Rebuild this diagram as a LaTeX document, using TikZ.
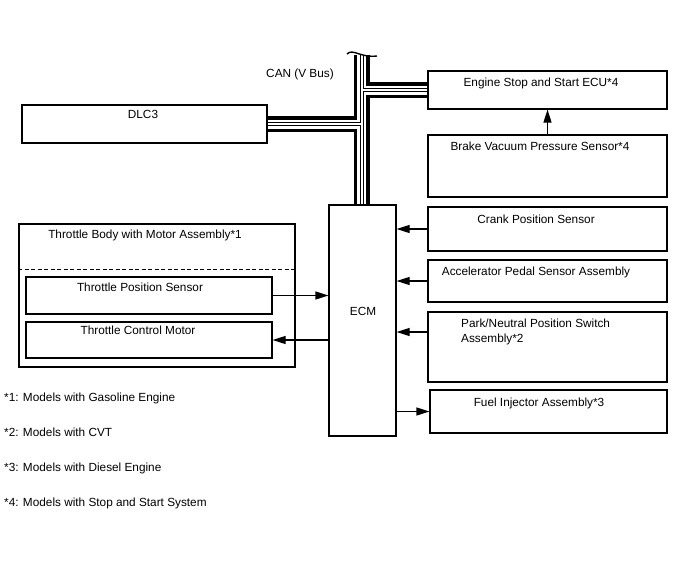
\documentclass[tikz,border=0pt]{standalone}
\usepackage{fontspec}
\setmainfont{Liberation Sans}
\usetikzlibrary{arrows.meta,positioning,calc}

\begin{document}
\begin{tikzpicture}[x=1pt,y=-1pt,
    unit/.style={draw, line width=1.2pt, inner sep=0pt},
    txt/.style={font=\fontsize{11.8}{14.5}\selectfont, inner sep=0pt, anchor=base},
    sig/.style={line width=1.2pt, -{Triangle[length=13pt,width=8pt]}}]
    \useasboundingbox (0,0) rectangle (688,560);

    % ECM and CAN members
    \node[unit, minimum width=67pt, minimum height=231pt] (ecm) at (362.5,320.5) {};
    \node[unit, minimum width=245pt, minimum height=38pt] (dlc) at (144.5,124) {};
    \node[unit, minimum width=239pt, minimum height=38pt] (ecu) at (547.5,90) {};
    \node[unit, minimum width=239pt, minimum height=62pt] (bvps) at (547.5,166) {};

    % Sensors / actuators right
    \node[unit, minimum width=239pt, minimum height=44pt] (cps) at (547.5,229) {};
    \node[unit, minimum width=239pt, minimum height=42pt] (aps) at (547.5,281) {};
    \node[unit, minimum width=239pt, minimum height=70pt] (pnp) at (547.5,347) {};
    \node[unit, minimum width=237pt, minimum height=43pt] (inj) at (548.5,411.5) {};

    % Throttle body
    \node[unit, minimum width=276pt, minimum height=143pt] (tbody) at (157,295.5) {};
    \node[unit, minimum width=246pt, minimum height=37pt] (tps) at (149,295.5) {};
    \node[unit, minimum width=246pt, minimum height=36pt] (tcm) at (149,340) {};
    \draw[line width=1pt, dash pattern=on 4pt off 2.5pt]
        ($(tbody.north west)+(0,46)$) -- ($(tbody.north east)+(0,46)$);

    % Labels
    \node[txt] (ecmlbl) at (363,315) {ECM};
    \node[txt] (dlclbl) at (143,118) {DLC3};
    \node[txt] (eculbl) at (541,86) {Engine Stop and Start ECU*4};
    \node[txt] (bvpslbl) at (540,150) {Brake Vacuum Pressure Sensor*4};
    \node[txt] (cpslbl) at (536,223) {Crank Position Sensor};
    \node[txt] (apslbl) at (536,275) {Accelerator Pedal Sensor Assembly};
    \node[txt, anchor=base west, align=left] (pnplbl) at (461,342) {Park/Neutral Position Switch\\Assembly*2};
    \node[txt] (injlbl) at (539,406) {Fuel Injector Assembly*3};
    \node[txt] (tbodylbl) at (145,238) {Throttle Body with Motor Assembly*1};
    \node[txt] (tpslbl) at (140,291) {Throttle Position Sensor};
    \node[txt] (tcmlbl) at (138,334) {Throttle Control Motor};
    \node[txt] (canlbl) at (300,77) {CAN (V Bus)};

    % CAN bus (drawn in layers)
    \coordinate (cantop) at (361.5,55);
    \foreach \w/\c in {16/black, 9/white, 4/black, 2/white}
        \draw[line width=\w pt, \c] (cantop) -- (cantop |- ecm.north)
            (dlc.east) -- (dlc.east -| cantop)
            (ecu.west) -- (ecu.west -| cantop);
    \draw[line width=1.4pt] (347,54) .. controls (353,48) and (360,58) .. (377,56);

    % Signals
    \draw[sig] (bvps.north) -- (ecu.south);
    \draw[sig] (cps.west) -- (cps.west -| ecm.east);
    \draw[sig] (aps.west) -- (aps.west -| ecm.east);
    \draw[sig] ([yshift=15pt]pnp.west) -- ([yshift=15pt]pnp.west -| ecm.east);
    \draw[sig] (inj.west -| ecm.east) -- (inj.west);
    \draw[sig] (tps.east) -- (tps.east -| ecm.west);
    \draw[sig] (tcm.east -| ecm.west) -- (tcm.east);

    % Notes
    \node[txt, anchor=base west] (note1) at (4,401) {*1: Models with Gasoline Engine};
    \node[txt, anchor=base west] (note2) at (4,436) {*2: Models with CVT};
    \node[txt, anchor=base west] (note3) at (4,471) {*3: Models with Diesel Engine};
    \node[txt, anchor=base west] (note4) at (4,506) {*4: Models with Stop and Start System};
\end{tikzpicture}
\end{document}
